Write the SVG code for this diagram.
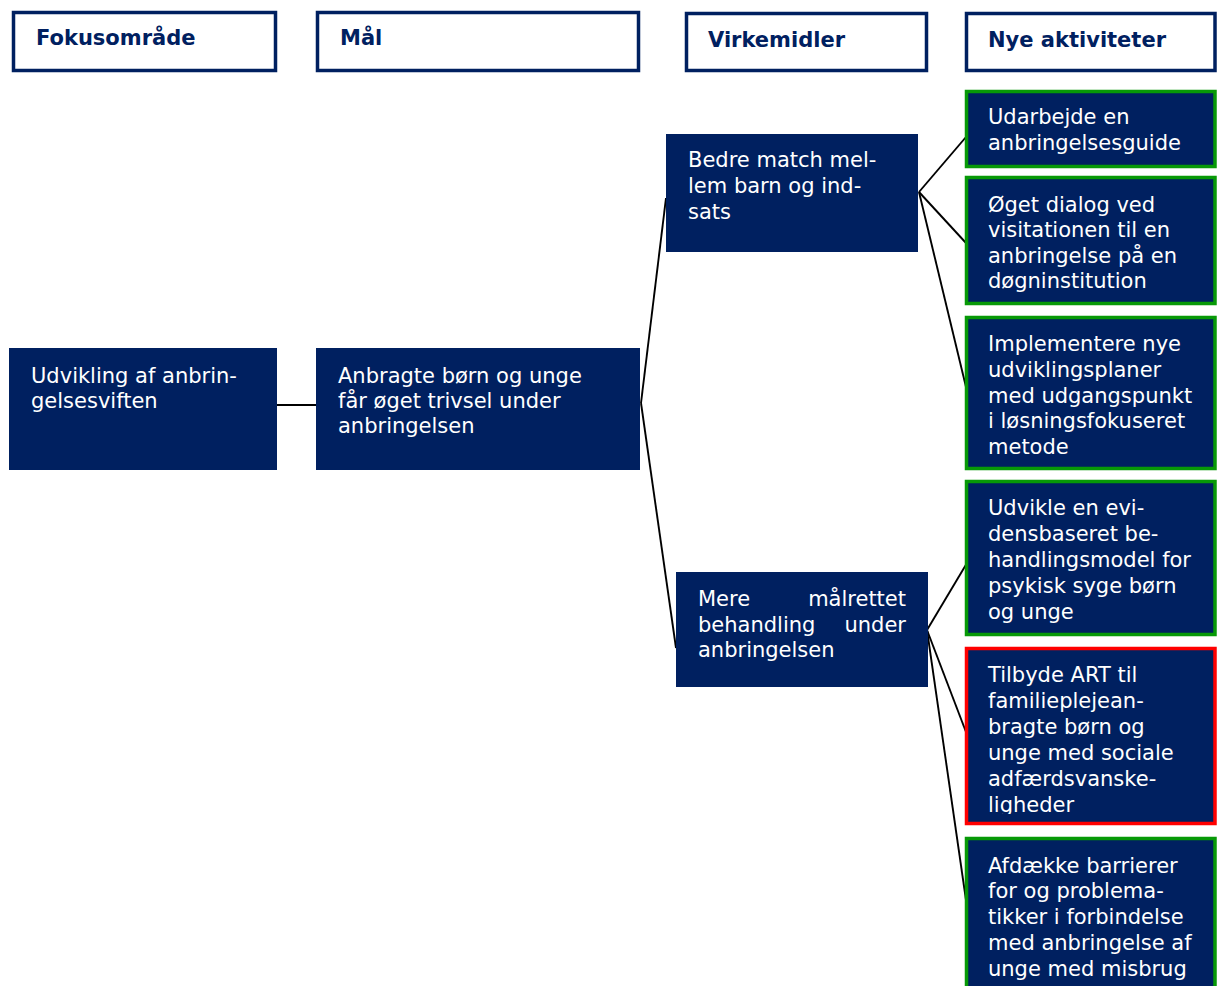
<svg xmlns="http://www.w3.org/2000/svg" width="1217" height="986" viewBox="0 0 1217 986">
<style>
.hdr{fill:#ffffff;stroke:#002060;stroke-width:3.5}
.ht{font-family:"DejaVu Sans",Verdana,sans-serif;font-weight:bold;font-size:21px;fill:#002060}
.box{fill:#002060}
.act{fill:#002060;stroke:#079907;stroke-width:3.5}
.actr{fill:#002060;stroke:#ff0000;stroke-width:3.5}
.t{font-family:"DejaVu Sans",Verdana,sans-serif;font-size:21px;fill:#ffffff}
.con line{stroke:#000000;stroke-width:1.9;fill:none}
</style>
<defs>
<clipPath id="clipA5"><rect x="966" y="648" width="251" height="166"/></clipPath>
</defs>
<rect width="1217" height="986" fill="#ffffff"/>
<g id="h1"><rect class="hdr" x="13.5" y="12.5" width="262" height="58"/><text class="ht" x="36" y="45">Fokusområde</text></g>
<g id="h2"><rect class="hdr" x="317.5" y="12.5" width="321" height="58"/><text class="ht" x="340" y="45">Mål</text></g>
<g id="h3"><rect class="hdr" x="686.5" y="13.5" width="240" height="57"/><text class="ht" x="708" y="47">Virkemidler</text></g>
<g id="h4"><rect class="hdr" x="966.5" y="13.5" width="248.5" height="57"/><text class="ht" x="988" y="47">Nye aktiviteter</text></g>
<g class="con" id="connectors">
<line x1="277" y1="405" x2="316" y2="405"/>
<line x1="641" y1="403" x2="666" y2="198"/>
<line x1="641" y1="403" x2="676" y2="648"/>
<line x1="919" y1="192" x2="966" y2="137"/>
<line x1="919" y1="192" x2="966" y2="243"/>
<line x1="919" y1="192" x2="966" y2="387"/>
<line x1="927" y1="630" x2="967" y2="563"/>
<line x1="927" y1="630" x2="966" y2="732"/>
<line x1="927" y1="630" x2="967" y2="907"/>
</g>
<g id="n_udvikling"><rect class="box" x="9" y="348" width="268" height="122"/>
<text class="t" x="31" y="383">Udvikling af anbrin-</text><text class="t" x="31" y="408">gelsesviften</text></g>
<g id="n_anbragte"><rect class="box" x="316" y="348" width="324" height="122"/>
<text class="t" x="338" y="383">Anbragte børn og unge</text><text class="t" x="338" y="408">får øget trivsel under</text><text class="t" x="338" y="433">anbringelsen</text></g>
<g id="n_bedre"><rect class="box" x="666" y="134" width="252" height="118"/>
<text class="t" x="688" y="167">Bedre match mel-</text><text class="t" x="688" y="193">lem barn og ind-</text><text class="t" x="688" y="219">sats</text></g>
<g id="n_mere"><rect class="box" x="676" y="572" width="252" height="115"/>
<text class="t" x="698" y="606">Mere</text><text class="t" x="906" y="606" text-anchor="end">målrettet</text>
<text class="t" x="698" y="632">behandling</text><text class="t" x="906" y="632" text-anchor="end">under</text>
<text class="t" x="698" y="657">anbringelsen</text></g>
<g id="a1"><rect class="act" x="966.5" y="91.5" width="248.5" height="75"/>
<text class="t" x="988" y="124">Udarbejde en</text><text class="t" x="988" y="150">anbringelsesguide</text></g>
<g id="a2"><rect class="act" x="966.5" y="177.5" width="248.5" height="126"/>
<text class="t" x="988" y="212">Øget dialog ved</text><text class="t" x="988" y="237">visitationen til en</text><text class="t" x="988" y="263">anbringelse på en</text><text class="t" x="988" y="288">døgninstitution</text></g>
<g id="a3"><rect class="act" x="966.5" y="317.5" width="248.5" height="151"/>
<text class="t" x="988" y="351">Implementere nye</text><text class="t" x="988" y="377">udviklingsplaner</text><text class="t" x="988" y="403">med udgangspunkt</text><text class="t" x="988" y="428">i løsningsfokuseret</text><text class="t" x="988" y="454">metode</text></g>
<g id="a4"><rect class="act" x="966.5" y="481.5" width="248.5" height="153"/>
<text class="t" x="988" y="515">Udvikle en evi-</text><text class="t" x="988" y="541">densbaseret be-</text><text class="t" x="988" y="567">handlingsmodel for</text><text class="t" x="988" y="593">psykisk syge børn</text><text class="t" x="988" y="619">og unge</text></g>
<g id="a5"><rect class="actr" x="966.5" y="648.5" width="248.5" height="175"/>
<g clip-path="url(#clipA5)"><text class="t" x="988" y="682">Tilbyde ART til</text><text class="t" x="988" y="708">familieplejean-</text><text class="t" x="988" y="734">bragte børn og</text><text class="t" x="988" y="760">unge med sociale</text><text class="t" x="988" y="786">adfærdsvanske-</text><text class="t" x="988" y="812">ligheder</text></g></g>
<g id="a6"><rect class="act" x="966.5" y="838.5" width="248.5" height="160"/>
<text class="t" x="988" y="873">Afdække barrierer</text><text class="t" x="988" y="898">for og problema-</text><text class="t" x="988" y="924">tikker i forbindelse</text><text class="t" x="988" y="950">med anbringelse af</text><text class="t" x="988" y="976">unge med misbrug</text></g>
</svg>
